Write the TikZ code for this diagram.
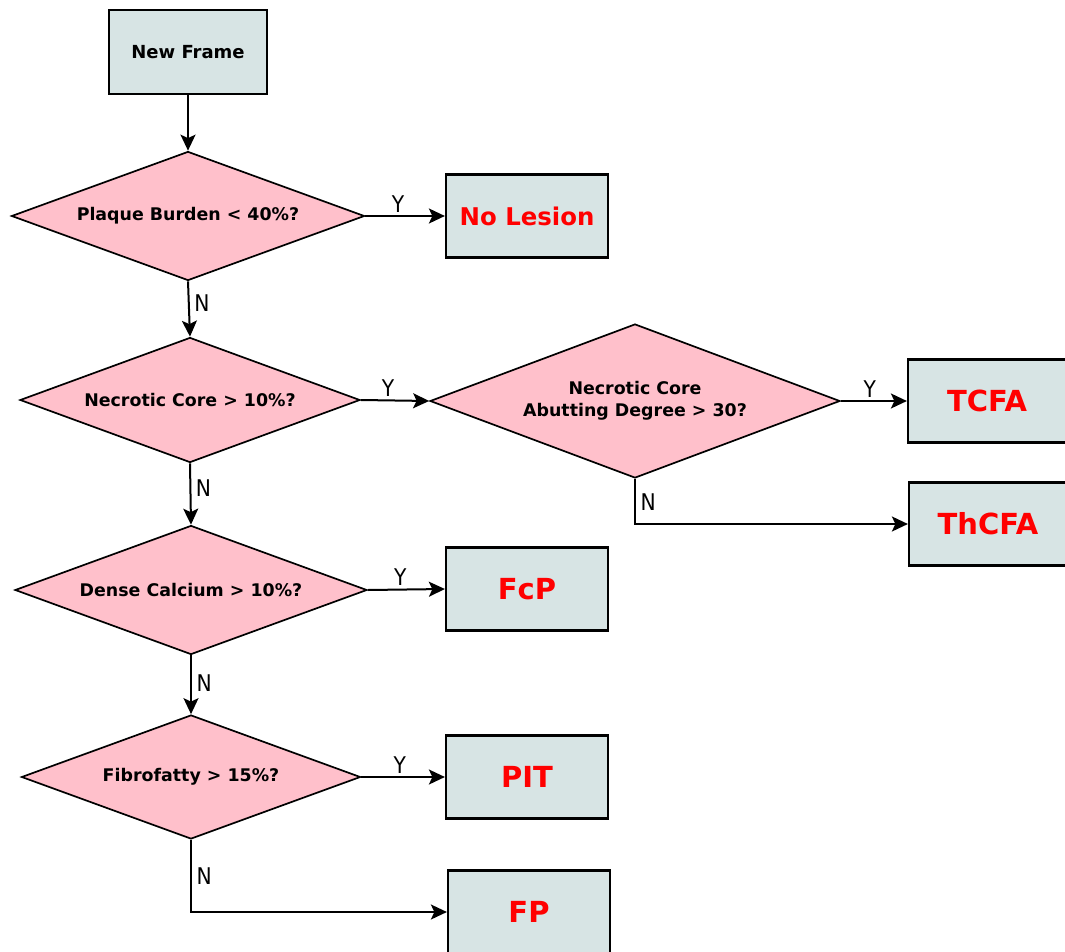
\documentclass[tikz,border=0pt]{standalone}
\usepackage{fontspec}
\setmainfont{DejaVu Sans}
\newfontfamily\narrowfont{DejaVu Sans}[FakeStretch=0.88]
\usetikzlibrary{arrows.meta, shapes.geometric}
\definecolor{boxgray}{RGB}{215, 228, 228}
\definecolor{diapink}{RGB}{255, 192, 203}
\definecolor{resultred}{RGB}{255, 0, 0}

\begin{document}
\begin{tikzpicture}[x=1pt, y=-1pt,
    framebox/.style={draw, line width=2.2pt, fill=boxgray, minimum width=158pt, minimum height=84pt,
        font=\fontsize{18}{22}\selectfont\bfseries},
    resultbox/.style={framebox, minimum width=162pt, minimum height=83pt, text=resultred,
        font=\fontsize{29}{34}\selectfont\bfseries},
    decision/.style={diamond, aspect=2.7, draw, line width=1.7pt, fill=diapink, inner sep=0pt, align=center,
        font=\fontsize{17.4}{22.3}\selectfont\bfseries},
    flow/.style={line width=2pt, -{Stealth[length=16pt, width=15pt, inset=3.5pt]}},
    yes/.style={above, inner sep=3pt, font=\narrowfont\fontsize{23}{26}\selectfont},
    no/.style={right, inner sep=4.5pt, font=\narrowfont\fontsize{23}{26}\selectfont}]
    \useasboundingbox (0,0) rectangle (1065,952);
    % questions
    \node[framebox] (frame) at (188,52) {New Frame};
    \node[decision, minimum width=353pt, minimum height=129pt] (burden) at (188,216) {Plaque Burden < 40\%?};
    \node[decision, minimum width=340pt, minimum height=125pt] (necrotic) at (190,400) {Necrotic Core > 10\%?};
    \node[decision, minimum width=410pt, minimum height=154pt] (abutting) at (635,401) {Necrotic Core\\Abutting Degree > 30?};
    \node[decision, minimum width=352pt, minimum height=129pt] (calcium) at (191,590) {Dense Calcium > 10\%?};
    \node[decision, minimum width=339pt, minimum height=124pt] (fibro) at (191,777) {Fibrofatty > 15\%?};
    % outcomes
    \node[resultbox, font=\fontsize{24.4}{29}\selectfont\bfseries] (nolesion) at (527,216) {No Lesion};
    \node[resultbox, minimum width=158pt] (tcfa) at (987,401) {TCFA};
    \node[resultbox, minimum width=158pt] (thcfa) at (988,524) {ThCFA};
    \node[resultbox] (fcp) at (527,589) {FcP};
    \node[resultbox] (pit) at (527,777) {PIT};
    \node[resultbox] (fp) at (529,912) {FP};
    % connectors
    \draw[flow] (frame) -- (burden);
    \draw[flow] (burden.east) -- node[pos=0.41, yes] {Y} (nolesion.west);
    \draw[flow] (burden.south) -- node[pos=0.39, no] {N} (necrotic.north);
    \draw[flow] (necrotic.east) -- node[pos=0.4, yes] {Y} (abutting.west);
    \draw[flow] (abutting.east) -- node[pos=0.44, yes] {Y} (tcfa.west);
    \draw[flow] (abutting.south) |- node[pos=0.26, no] {N} (thcfa.west);
    \draw[flow] (necrotic.south) -- node[pos=0.41, no] {N} (calcium.north);
    \draw[flow] (calcium.east) -- node[pos=0.42, yes] {Y} (fcp.west);
    \draw[flow] (calcium.south) -- node[pos=0.48, no] {N} (fibro.north);
    \draw[flow] (fibro.east) -- node[pos=0.46, yes] {Y} (pit.west);
    \draw[flow] (fibro.south) |- node[pos=0.25, no] {N} (fp.west);
\end{tikzpicture}
\end{document}
